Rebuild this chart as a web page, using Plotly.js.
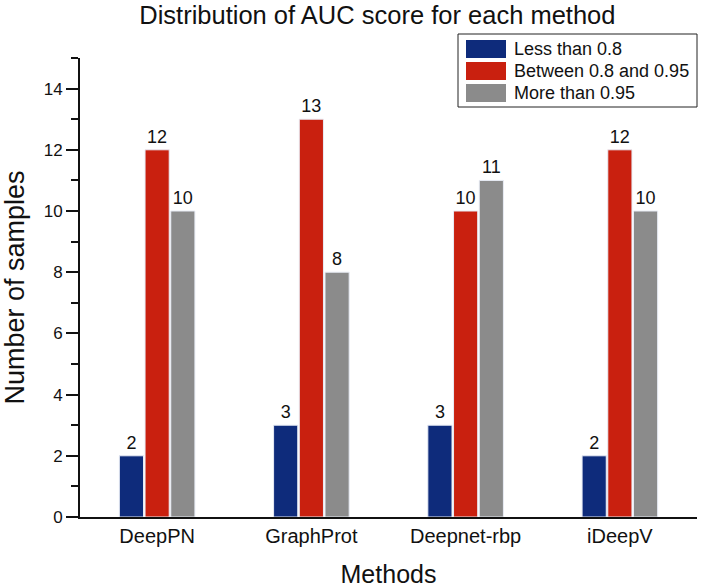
<!DOCTYPE html>
<html>
<head>
<meta charset="utf-8">
<script src="https://cdn.plot.ly/plotly-3.0.1.min.js"></script>
<style>html,body{margin:0;padding:0;background:#fff;}</style>
</head>
<body>
<div id="chart" style="width:708px;height:588px;"></div>
<script>
var methods = ["DeepPN", "GraphProt", "Deepnet-rbp", "iDeepV"];
var lessThan08 = [2, 3, 3, 2];
var between08and095 = [12, 13, 10, 12];
var moreThan095 = [10, 8, 11, 10];
var seriesNames = ["Less than 0.8", "Between 0.8 and 0.95", "More than 0.95"];
var seriesColors = ["#0e2b7b", "#c9200f", "#8b8b8b"];
var yTicks = [0, 2, 4, 6, 8, 10, 12, 14];

var FONT = "Liberation Sans, Arial, sans-serif";
var seriesValues = [lessThan08, between08and095, moreThan095];
var traces = seriesValues.map(function (vals, i) {
  return {
    type: "bar",
    name: seriesNames[i],
    x: methods,
    y: vals,
    text: vals.map(String),
    textposition: "outside",
    cliponaxis: false,
    textfont: {family: FONT, size: 18, color: "#111"},
    marker: {color: seriesColors[i], line: {color: "#e8ecf5", width: 1}}
  };
});

// Legend drawn as a boxed key in the upper right (paper coordinates)
var W = 708, H = 588, mL = 80, mR = 11, mT = 58, mB = 71;
var pw = W - mL - mR, ph = H - mT - mB;
function px(x) { return (x - mL) / pw; }
function py(y) { return (H - mB - y) / ph; }
var shapes = [{type: "rect", xref: "paper", yref: "paper", x0: px(458), x1: px(697), y0: py(107), y1: py(34),
               line: {color: "#222", width: 1}, fillcolor: "#fff", layer: "above"}];
var annotations = [];
seriesNames.forEach(function (nm, i) {
  var cy = 49 + 22 * i;
  shapes.push({type: "rect", xref: "paper", yref: "paper", x0: px(466), x1: px(506), y0: py(cy + 9), y1: py(cy - 9),
               line: {width: 0}, fillcolor: seriesColors[i], layer: "above"});
  annotations.push({xref: "paper", yref: "paper", x: px(512), y: py(cy), xanchor: "left", yanchor: "middle",
                    text: nm, showarrow: false, font: {family: FONT, size: 18, color: "#111"}});
});

var layout = {
  width: W, height: H,
  margin: {l: mL, r: mR, t: mT, b: mB},
  paper_bgcolor: "#fff", plot_bgcolor: "#fff",
  font: {family: FONT, color: "#111"},
  barmode: "group", bargap: 0.5, bargroupgap: 0.06,
  showlegend: false,
  title: {text: "Distribution of AUC score for each method", font: {size: 25.5, color: "#111"},
          x: 0.533, xref: "container", xanchor: "center", y: 0.975, yref: "container", yanchor: "middle"},
  xaxis: {
    title: {text: "Methods", font: {size: 25}, standoff: 22},
    range: [-0.5, 3.5],
    showline: true, linecolor: "#111", linewidth: 2,
    ticks: "", tickfont: {size: 20, color: "#111"},
    showgrid: false, zeroline: false
  },
  yaxis: {
    title: {text: "Number of samples", font: {size: 27}, standoff: 14},
    range: [0, 15],
    tickvals: yTicks, ticktext: yTicks.map(String),
    showline: true, linecolor: "#111", linewidth: 2,
    ticks: "outside", ticklen: 12, tickwidth: 2, tickcolor: "#111",
    tickfont: {size: 17, color: "#111"},
    minor: {dtick: 1, tick0: 0, ticks: "outside", ticklen: 7, tickwidth: 2, tickcolor: "#111", showgrid: false},
    showgrid: false, zeroline: false
  },
  shapes: shapes,
  annotations: annotations
};

Plotly.newPlot("chart", traces, layout, {displayModeBar: false, staticPlot: true});
</script>
</body>
</html>
